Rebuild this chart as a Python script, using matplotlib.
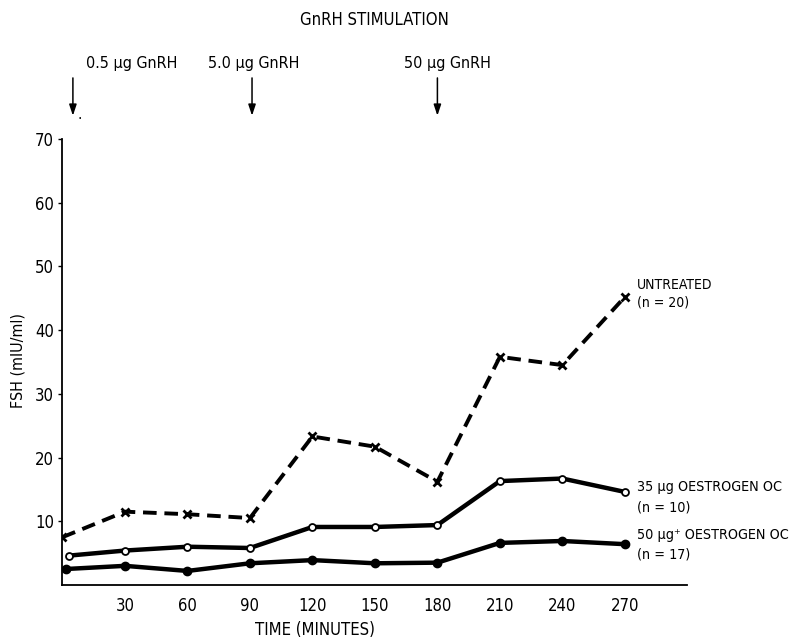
import matplotlib.pyplot as plt

times = [0, 30, 60, 90, 120, 150, 180, 210, 240, 270]
untreated = [7.5, 11.5, 11.1, 10.5, 23.3, 21.7, 16.2, 35.8, 34.5, 45.2]
oc35 = [4.6, 5.4, 6.0, 5.8, 9.1, 9.1, 9.4, 16.3, 16.7, 14.6]
oc50 = [2.5, 3.0, 2.2, 3.4, 3.9, 3.4, 3.5, 6.6, 6.9, 6.4]
x_ticks = [30, 60, 90, 120, 150, 180, 210, 240, 270]
y_ticks = [10, 20, 30, 40, 50, 60, 70]

doses = ['0.5 \u00b5g GnRH', '5.0 \u00b5g GnRH', '50 \u00b5g GnRH']
dose_times = [5, 91, 180]
dose_label_x = [33.3, 92, 185]

plt.rcParams['font.family'] = ['DejaVu Sans', 'DejaVu Sans Condensed']
plt.rcParams['font.stretch'] = 'condensed'
plt.rcParams['font.size'] = 11

fig = plt.figure(figsize=(7.96, 6.4), dpi=100)
ax = fig.add_axes([0.0785, 0.086, 0.785, 0.697])

ax.plot(times, untreated, color='black', lw=2.8, ls=(0, (3.5, 2)),
        marker='x', ms=6, mew=2, zorder=3)
ax.plot([t + 3 if t == 0 else t for t in times], oc35, color='black', lw=3.2,
        marker='o', ms=5, mfc='white', mec='black', mew=1.3, zorder=3)
ax.plot([t + 1.5 if t == 0 else t for t in times], oc50, color='black', lw=3.2,
        marker='o', ms=6, mfc='black', mec='black', zorder=3)

ax.set_xlim(0, 300)
ax.set_ylim(0, 70)
ax.set_xticks(x_ticks)
ax.set_yticks(y_ticks)
ax.tick_params(axis='x', length=0, pad=9, labelsize=12)
ax.tick_params(axis='y', length=3, width=1, direction='out', pad=3, labelsize=12)
for s in ['top', 'right']:
    ax.spines[s].set_visible(False)
for s in ['left', 'bottom']:
    ax.spines[s].set_linewidth(1.3)

fig.text(0.396, 0.015, 'TIME (MINUTES)', fontsize=12, ha='center', va='center')
fig.text(0.023, 0.4375, 'FSH (mIU/ml)', fontsize=11.5, ha='center', va='center',
         rotation=90)

# series labels
ax.text(276, 45.7, 'UNTREATED\n(n = 20)', fontsize=10, va='center', linespacing=1.3)
ax.text(276, 13.8, '35 \u00b5g OESTROGEN OC\n(n = 10)', fontsize=10.3, va='center',
        linespacing=1.55)
ax.text(276, 6.3, '50 \u00b5g\u207a OESTROGEN OC\n(n = 17)', fontsize=10.3, va='center',
        linespacing=1.55)

# GnRH stimulation arrows above the axes
for t, lab, lx in zip(dose_times, doses, dose_label_x):
    ax.annotate('', xy=(t, 73.2), xytext=(t, 80.0), xycoords='data',
                annotation_clip=False,
                arrowprops=dict(arrowstyle='-|>,head_length=0.6,head_width=0.2',
                                color='black', lw=1.1))
    ax.text(lx, 81.8, lab, fontsize=11.5, ha='center', va='center', clip_on=False)
ax.text(8.4, 73.9, '.', fontsize=11, ha='center', va='center')

ax.text(150, 88.6, 'GnRH STIMULATION', fontsize=12, ha='center', va='center')

fig.savefig('out.png', dpi=100)
